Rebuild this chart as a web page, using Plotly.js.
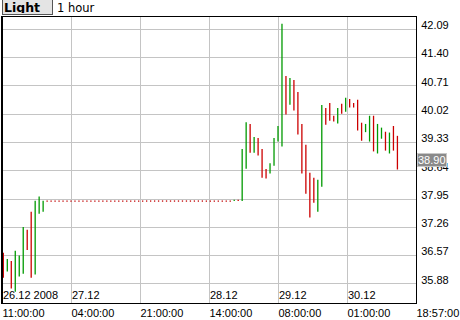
<!DOCTYPE html>
<html>
<head>
<meta charset="utf-8">
<script src="https://cdn.plot.ly/plotly-3.0.1.min.js"></script>
<style>
  html, body { margin: 0; padding: 0; background: #ffffff; }
  #chart { width: 460px; height: 320px; }
</style>
</head>
<body>
<div id="chart"></div>
<script>
// ---- data (hourly bars, "Light" crude, 26.12.2008 11:00 onward) ----
const instrument = 'Light';
const period = '1 hour';
const lastPrice = 38.90;

// high / low of each hourly bar
const high = [
  36.64, 36.49, 36.44, 36.69, 36.57, 37.27, 37.20, 37.64, 37.91, 38.01, 37.91,
  37.90, 37.90, 37.90, 37.90, 37.90, 37.90, 37.90, 37.90, 37.90, 37.90,
  37.90, 37.90, 37.90, 37.90, 37.90, 37.90, 37.90, 37.90, 37.90, 37.90,
  37.90, 37.90, 37.90, 37.90, 37.90, 37.90, 37.90, 37.90, 37.90, 37.90,
  37.90, 37.90, 37.90, 37.90, 37.90, 37.90, 37.90, 37.90, 37.90, 37.90,
  37.90, 37.90, 37.90, 37.90, 37.90, 37.90, 37.90,
  37.93, 37.93,
  39.17, 39.82, 39.78, 39.46, 39.44, 39.17, 38.68, 38.82, 39.44, 39.73,
  42.22, 40.95, 40.90, 40.85, 40.56, 39.78, 39.27, 38.59, 38.47, 38.42,
  40.24, 40.17, 40.29, 39.98, 40.17, 40.27, 40.42, 40.39, 40.29, 40.37,
  39.81, 39.78, 39.98, 39.98, 39.78, 39.69, 39.59, 39.57, 39.73, 39.49
];
const low = [
  36.03, 36.18, 35.77, 35.69, 36.06, 36.13, 36.71, 36.03, 36.11, 37.59, 37.64,
  37.90, 37.90, 37.90, 37.90, 37.90, 37.90, 37.90, 37.90, 37.90, 37.90,
  37.90, 37.90, 37.90, 37.90, 37.90, 37.90, 37.90, 37.90, 37.90, 37.90,
  37.90, 37.90, 37.90, 37.90, 37.90, 37.90, 37.90, 37.90, 37.90, 37.90,
  37.90, 37.90, 37.90, 37.90, 37.90, 37.90, 37.90, 37.90, 37.90, 37.90,
  37.90, 37.90, 37.90, 37.90, 37.90, 37.90, 37.90,
  37.90, 37.90,
  37.90, 38.69, 39.08, 39.08, 39.01, 38.47, 38.45, 38.57, 38.76, 39.35,
  39.23, 40.01, 40.25, 40.11, 39.52, 38.57, 38.08, 37.50, 37.86, 37.64,
  38.25, 39.76, 39.86, 39.84, 39.79, 40.03, 40.08, 40.18, 40.18, 39.62,
  39.37, 39.58, 39.35, 39.11, 39.06, 39.42, 39.13, 39.06, 39.13, 38.67
];
// 1 = rising bar (green), 0 = falling bar (red)
const rising = [
  0, 1, 0, 1, 1, 1, 0, 0, 1, 1, 1,
  0, 0, 0, 0, 0, 0, 0, 0, 0, 0,
  0, 0, 0, 0, 0, 0, 0, 0, 0, 0,
  0, 0, 0, 0, 0, 0, 0, 0, 0, 0,
  0, 0, 0, 0, 0, 0, 0, 0, 0, 0,
  0, 0, 0, 0, 0, 0, 0,
  1, 0,
  1, 1, 0, 1, 0, 0, 0, 1, 1, 1,
  1, 0, 1, 0, 0, 0, 0, 0, 0, 1,
  1, 0, 0, 0, 1, 0, 1, 0, 0, 0,
  0, 1, 1, 0, 1, 1, 0, 1, 0, 0
];

// axis labels
const yTicks = [35.88, 36.57, 37.26, 37.95, 38.64, 39.33, 40.02, 40.71, 41.40, 42.09];
const timeLabels = ['11:00:00', '04:00:00', '21:00:00', '14:00:00', '08:00:00', '01:00:00', '18:57:00'];
const dateLabels = ['26.12 2008', '27.12', '', '28.12', '29.12', '30.12', ''];

// ---- build ----
const HOUR = 3600 * 1000;
const firstBar = Date.UTC(2008, 11, 26, 11, 0);
const R0 = Date.UTC(2008, 11, 26, 10, 40);
const R1 = R0 + 104 * HOUR;

const GREEN = '#009a00', RED = '#cc0000';
const up = {x: [], y: []}, dn = {x: [], y: []}, flat = {x: [], y: []};
for (let i = 0; i < high.length; i++) {
  const t = firstBar + i * HOUR;
  if (high[i] === low[i]) { flat.x.push(t); flat.y.push(high[i]); continue; }
  const s = rising[i] ? up : dn;
  s.x.push(t, t, null);
  s.y.push(low[i], high[i], null);
}

const traces = [
  {type: 'scatter', mode: 'markers', x: flat.x, y: flat.y, hoverinfo: 'skip',
   marker: {symbol: 'square', size: 1.3, color: '#c00000', line: {width: 0}}},
  {type: 'scatter', mode: 'lines', x: up.x, y: up.y, hoverinfo: 'skip',
   line: {color: GREEN, width: 1.3}},
  {type: 'scatter', mode: 'lines', x: dn.x, y: dn.y, hoverinfo: 'skip',
   line: {color: RED, width: 1.3}}
];

const tickVals = [];
for (let k = 0; k < 6; k++) tickVals.push(R0 + k * (R1 - R0) / 6);
tickVals.push(R1);

const FONT = 'Liberation Sans, Arial, sans-serif';
const annotations = [];
dateLabels.forEach((d, k) => {
  if (!d) return;
  annotations.push({xref: 'x', yref: 'paper', x: tickVals[k], y: 0,
    xanchor: 'left', yanchor: 'bottom', text: d, showarrow: false,
    borderpad: 0, yshift: 1, font: {family: FONT, size: 11, color: '#000'}});
});
annotations.push({xref: 'paper', yref: 'paper', x: 0, y: 1, xanchor: 'left', yanchor: 'bottom',
  text: '<b>' + instrument + '</b>', showarrow: false, align: 'left',
  width: 47, height: 12, borderpad: 1, borderwidth: 1, bordercolor: '#555',
  bgcolor: '#e4e4e4', yshift: 2,
  font: {family: 'DejaVu Sans, sans-serif', size: 12.5, color: '#000'}});
annotations.push({xref: 'paper', yref: 'paper', x: 0, y: 1, xanchor: 'left', yanchor: 'bottom',
  text: period, showarrow: false, xshift: 54, yshift: 1, borderpad: 0,
  font: {family: 'DejaVu Sans, sans-serif', size: 11.5, color: '#000'}});
annotations.push({xref: 'paper', yref: 'y', x: 1, y: lastPrice, xanchor: 'left', yanchor: 'middle',
  text: lastPrice.toFixed(2), showarrow: false, xshift: 1, borderpad: 0, borderwidth: 1,
  bordercolor: '#c8c8c8', bgcolor: '#8a8a8a',
  font: {family: FONT, size: 11, color: '#ffffff'}});

const layout = {
  width: 460, height: 320,
  margin: {l: 2, r: 44, t: 17, b: 17, pad: 0},
  paper_bgcolor: '#ffffff', plot_bgcolor: '#ffffff',
  showlegend: false,
  xaxis: {
    type: 'date', range: [R0, R1], fixedrange: true,
    tickmode: 'array', tickvals: tickVals, ticktext: timeLabels,
    ticklabelposition: 'outside right', ticks: '',
    showgrid: true, gridcolor: '#c4c4c4', gridwidth: 1,
    showline: true, linecolor: '#000', linewidth: 1, mirror: true, zeroline: false,
    tickfont: {family: FONT, size: 11, color: '#000'}
  },
  yaxis: {
    side: 'right', range: [35.415, 42.387], fixedrange: true,
    tickmode: 'array', tickvals: yTicks, ticktext: yTicks.map(v => v.toFixed(2)),
    ticks: '', ticklabelshift: -4, ticklabelstandoff: 2,
    showgrid: true, gridcolor: '#c4c4c4', gridwidth: 1,
    showline: true, linecolor: '#000', linewidth: 1, mirror: true, zeroline: false,
    tickfont: {family: FONT, size: 11, color: '#000'}
  },
  shapes: [{type: 'line', xref: 'paper', yref: 'paper', x0: 0, x1: 0, y0: 0, y1: 1,
            line: {color: '#000', width: 2}}],
  annotations: annotations
};

Plotly.newPlot('chart', traces, layout, {staticPlot: true, displayModeBar: false});
</script>
</body>
</html>
